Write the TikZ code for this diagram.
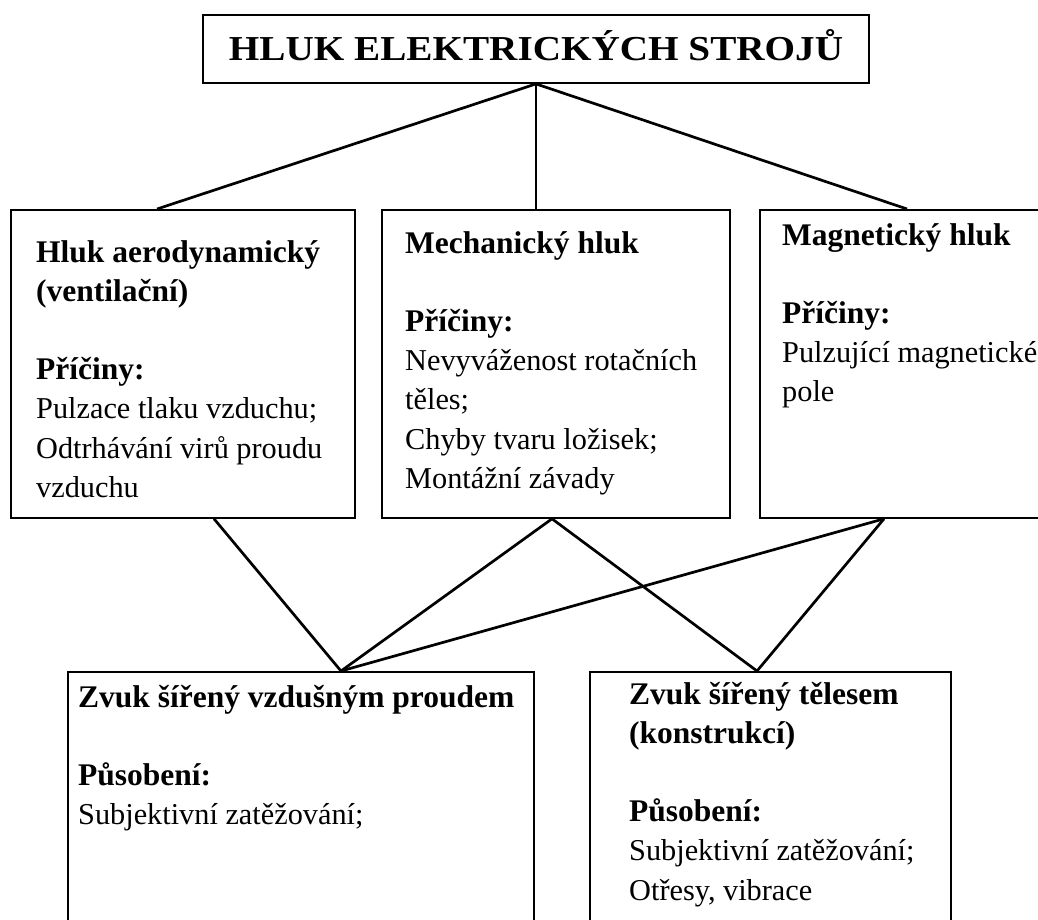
\documentclass[tikz,border=0pt]{standalone}
\usepackage{fontspec}
\setmainfont{Liberation Serif}
\newfontfamily\titlefont[FakeStretch=1.12]{Liberation Serif}
\usepackage{tikz}
\newcommand{\hd}[1]{{\fontsize{31.5}{39.2}\selectfont\bfseries #1}}

\tikzset{
  box/.style={draw,line width=1.8pt,rectangle,inner sep=0pt,anchor=north west},
  txt/.style={inner sep=0pt,anchor=base west,text width=#1,align=flush left,font=\fontsize{30.3}{39.2}\selectfont},
  link/.style={line width=2.7pt}
}

\begin{document}
\begin{tikzpicture}[x=1pt,y=-1pt]
  \useasboundingbox (0,0) rectangle (1038,919);
  \node[box,anchor=center,minimum width=666pt,minimum height=68pt,text height=23pt,text depth=0pt,font=\titlefont\bfseries\fontsize{35}{40}\selectfont] (title) at (536,49) {HLUK ELEKTRICKÝCH STROJŮ};
  \node[box,minimum width=344pt,minimum height=308pt] (aero) at (10,209) {};
  \node[box,minimum width=348pt,minimum height=308pt] (mech) at (381,209) {};
  \node[box,minimum width=320pt,minimum height=308pt] (magn) at (759,209) {};
  \node[box,minimum width=466pt,minimum height=300pt] (vzduch) at (67,671) {};
  \node[box,minimum width=361pt,minimum height=300pt] (teleso) at (589,671) {};

  \node[txt=340pt] (aerotxt) at (36,262) {\hd{Hluk aerodynamický}\\\hd{(ventilační)}\\~\\\hd{Příčiny:}\\Pulzace tlaku vzduchu;\\Odtrhávání virů proudu\\vzduchu};
  \node[txt=340pt] (mechtxt) at (405,253) {\hd{Mechanický hluk}\\~\\\hd{Příčiny:}\\Nevyváženost rotačních\\těles;\\Chyby tvaru ložisek;\\Montážní závady};
  \node[txt=340pt] (magntxt) at (782,245) {\hd{Magnetický hluk}\\~\\\hd{Příčiny:}\\Pulzující magnetické\\pole};
  \node[txt=460pt] (vzduchtxt) at (78,707) {\hd{Zvuk šířený vzdušným proudem}\\~\\\hd{Působení:}\\Subjektivní zatěžování;};
  \node[txt=340pt] (telesotxt) at (629,704) {\hd{Zvuk šířený tělesem}\\\hd{(konstrukcí)}\\~\\\hd{Působení:}\\Subjektivní zatěžování;\\Otřesy, vibrace};

  \draw[link] (title.south) -- ([xshift=147pt]aero.north west);
  \draw[link] (title.south) -- ([xshift=155pt]mech.north west);
  \draw[link] (title.south) -- ([xshift=148pt]magn.north west);
  \foreach \a/\s in {aero/204,mech/171,magn/125}{
    \draw[link] ([xshift=\s pt]\a.south west) -- ([xshift=274pt]vzduch.north west);
  }
  \foreach \a/\s in {mech/171,magn/125}{
    \draw[link] ([xshift=\s pt]\a.south west) -- ([xshift=168pt]teleso.north west);
  }
\end{tikzpicture}
\end{document}
